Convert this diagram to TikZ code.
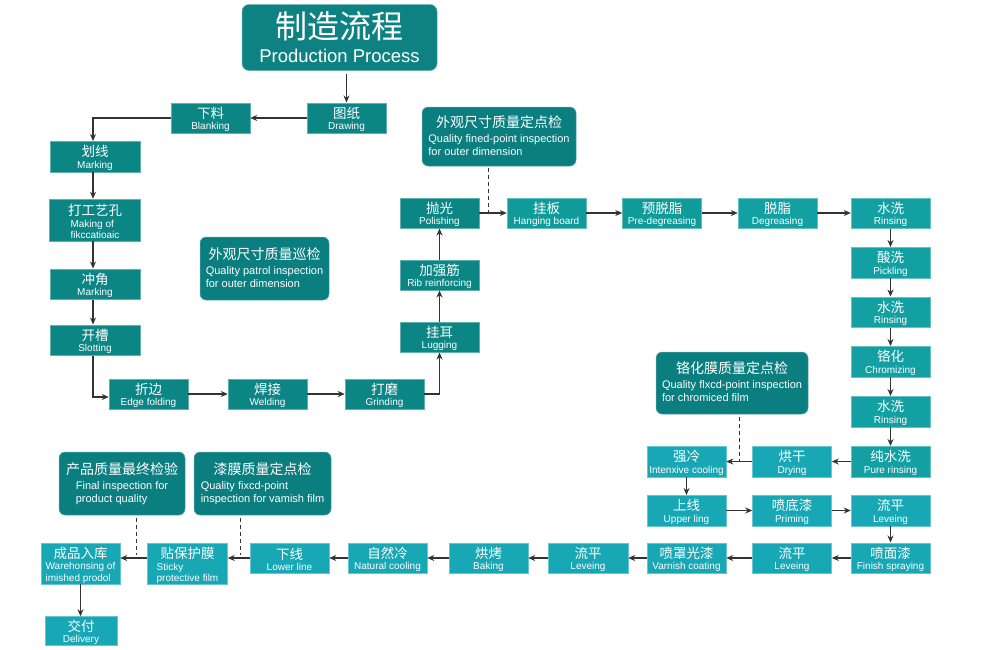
\documentclass[tikz,border=0pt]{standalone}
\usepackage{fontspec}
\setmainfont{Liberation Sans}
\newfontfamily\cjk{Noto Sans CJK SC}
\usetikzlibrary{arrows.meta,calc}
\definecolor{cA}{HTML}{0B7E80}
\definecolor{cT}{HTML}{0E8282}
\definecolor{cB}{HTML}{0C8585}
\definecolor{cG}{HTML}{109B9B}
\definecolor{cC}{HTML}{13A0A3}
\definecolor{cD}{HTML}{17A7B5}
\definecolor{lnk}{HTML}{333333}
\newcommand\zh[1]{{\cjk\fontsize{13.5}{14}\selectfont\rule{0pt}{14.5pt}#1}}
\newcommand\zhi[1]{{\cjk\fontsize{14}{14}\selectfont #1}}
\begin{document}
\begin{tikzpicture}[x=1pt,y=-1pt,
  pbox/.style={rectangle, inner sep=0pt, minimum width=79pt, minimum height=30.5pt,
    text=white, align=center, font=\fontsize{10}{11.5}\selectfont,
    fill=#1, draw=#1!65!white, line width=0.5pt},
  pbox/.default=cB,
  insp/.style={rectangle, rounded corners=6pt, inner sep=0pt, text=white, align=center,
    font=\fontsize{11}{13}\selectfont, fill=cA, draw=cA!65!white, line width=0.5pt},
  ttl/.style={rectangle, rounded corners=7pt, inner sep=0pt, minimum width=195pt,
    minimum height=66pt, text=white, align=center, font=\fontsize{18.5}{24}\selectfont,
    fill=cT, draw=cT!65!white, line width=0.5pt},
  arr/.style={-{Stealth[length=7pt,width=6pt]}, draw=lnk, line width=1.1pt},
  dsh/.style={draw=lnk, line width=0.9pt, dash pattern=on 4pt off 3pt}
]
\fill[white] (0,0) rectangle (1000,649);
\useasboundingbox (0,0) rectangle (1000,649);

% title
\node[ttl] (title) at (339.5,37.5) {{\cjk\fontsize{32}{32}\selectfont 制造流程}\\Production Process};

% dark group
\node[pbox] (tuzhi) at (346.5,118) {\zh{图纸}\\Drawing};
\node[pbox] (xialiao) at (210.5,118) {\zh{下料}\\Blanking};
\node[pbox, minimum width=90pt] (huaxian) at (95,156.5) {\zh{划线}\\Marking};
\node[pbox, minimum width=91pt, minimum height=42pt] (dagong) at (95,220) {\zh{打工艺孔}\\\rlap{Making of}\phantom{fikccatioaic}\\fikccatioaic};
\node[pbox, minimum width=90pt] (chongjiao) at (95,284) {\zh{冲角}\\Marking};
\node[pbox, minimum width=90pt] (kaicao) at (95,340) {\zh{开槽}\\Slotting};
\node[pbox] (zhebian) at (148.5,394) {\zh{折边}\\Edge folding};
\node[pbox] (hanjie) at (267.5,394) {\zh{焊接}\\Welding};
\node[pbox] (damo) at (384.5,394) {\zh{打磨}\\Grinding};
\node[pbox] (guaer) at (439.5,337) {\zh{挂耳}\\Lugging};
\node[pbox] (jiaqiang) at (439.5,275) {\zh{加强筋}\\Rib reinforcing};
\node[pbox] (paoguang) at (439.5,213) {\zh{抛光}\\Polishing};

% top row
\node[pbox=cG] (guaban) at (546.5,213) {\zh{挂板}\\Hanging board};
\node[pbox=cG] (yutuozhi) at (662,213) {\zh{预脱脂}\\Pre-degreasing};
\node[pbox=cC] (tuozhi) at (777.5,213) {\zh{脱脂}\\Degreasing};
\node[pbox=cC] (shuixiA) at (890.5,213) {\zh{水洗}\\Rinsing};
\node[pbox=cC] (suanxi) at (890.5,262.5) {\zh{酸洗}\\Pickling};
\node[pbox=cC] (shuixiB) at (890.5,312) {\zh{水洗}\\Rinsing};
\node[pbox=cC] (gehua) at (890.5,361.5) {\zh{铬化}\\Chromizing};
\node[pbox=cC] (shuixiC) at (890.5,411.5) {\zh{水洗}\\Rinsing};
\node[pbox=cC] (chunshui) at (890.5,461.5) {\zh{纯水洗}\\Pure rinsing};

% lower right
\node[pbox=cD] (honggan) at (792,461.5) {\zh{烘干}\\Drying};
\node[pbox=cD] (qiangleng) at (686.5,461.5) {\zh{强冷}\\Intenxive cooling};
\node[pbox=cD] (shangxian) at (686.5,510.5) {\zh{上线}\\Upper ling};
\node[pbox=cD] (pendi) at (792,510.5) {\zh{喷底漆}\\Priming};
\node[pbox=cD] (liupingA) at (890.5,510.5) {\zh{流平}\\Leveing};
\node[pbox=cD] (penmian) at (890.5,558) {\zh{喷面漆}\\Finish spraying};
\node[pbox=cD] (liupingB) at (792,558) {\zh{流平}\\Leveing};
\node[pbox=cD] (penzhao) at (686.5,558) {\zh{喷罩光漆}\\Varnish coating};

% bottom row
\node[pbox=cD, minimum width=80pt] (liupingC) at (588,558) {\zh{流平}\\Leveing};
\node[pbox=cD] (hongkao) at (488.5,558) {\zh{烘烤}\\Baking};
\node[pbox=cD] (ziran) at (387.5,558) {\zh{自然冷}\\Natural cooling};
\node[pbox=cD] (xiaxian) at (289.5,558) {\zh{下线}\\Lower line};
\node[pbox=cD, minimum width=80pt, minimum height=41pt] (tiebao) at (187.5,564) {\zh{贴保护膜}\\\rlap{Sticky}\phantom{protective film}\\protective film};
\node[pbox=cD, minimum height=41pt] (chengpin) at (80.5,563.5) {\zh{成品入库}\\Warehonsing of\\\rlap{imished prodol}\phantom{Warehonsing of}};
\node[pbox=cD, minimum width=72pt, minimum height=29pt] (jiaofu) at (81,631) {\zh{交付}\\Delivery};

% inspections
\node[insp, minimum width=154pt, minimum height=59pt] (iA) at (499,136.5) {\zhi{外观尺寸质量定点检}\\[2pt]Quality fined-point inspection\\\rlap{for outer dimension}\phantom{Quality fined-point inspection}};
\node[insp, minimum width=129pt, minimum height=63pt] (iB) at (264.5,268.5) {\zhi{外观尺寸质量巡检}\\[2pt]Quality patrol inspection\\\rlap{for outer dimension}\phantom{Quality patrol inspection}};
\node[insp, minimum width=152pt, minimum height=62pt] (iC) at (732,383) {\zhi{铬化膜质量定点检}\\[2pt]Quality flxcd-point inspection\\\rlap{for chromiced film}\phantom{Quality flxcd-point inspection}};
\node[insp, minimum width=126pt, minimum height=63pt] (iD) at (122,483.5) {\zhi{产品质量最终检验}\\[2pt]Final inspection for\\\rlap{product quality}\phantom{Final inspection for}};
\node[insp, minimum width=137pt, minimum height=63pt] (iE) at (262.5,483.5) {\zhi{漆膜质量定点检}\\[2pt]\rlap{Quality fixcd-point}\phantom{inspection for vamish film}\\inspection for vamish film};

% connectors
\draw[arr, shorten <=3pt] (title.south -| tuzhi) -- (tuzhi.north);
\draw[arr] (tuzhi.west) -- (xialiao.east);
\draw[arr] (xialiao.west) -| ($(huaxian.north)+(-2,0)$);
\draw[arr] ($(huaxian.south)+(-2,0)$) -- ($(dagong.north)+(-2,0)$);
\draw[arr] ($(dagong.south)+(-2,0)$) -- ($(chongjiao.north)+(-2,0)$);
\draw[arr] ($(chongjiao.south)+(-2,0)$) -- ($(kaicao.north)+(-2,0)$);
\draw[arr] ($(kaicao.south)+(-2,0)$) |- ($(zhebian.west)+(0,3)$);
\draw[arr] (zhebian) -- (hanjie);
\draw[arr] (hanjie) -- (damo);
\draw[arr] (damo.east) -| (guaer.south);
\draw[arr] (guaer) -- (jiaqiang);
\draw[arr] (jiaqiang) -- (paoguang);
\draw[arr] (paoguang) -- (guaban);
\draw[arr] (guaban) -- (yutuozhi);
\draw[arr] (yutuozhi) -- (tuozhi);
\draw[arr] (tuozhi) -- (shuixiA);
\draw[arr] (shuixiA) -- (suanxi);
\draw[arr] (suanxi) -- (shuixiB);
\draw[arr] (shuixiB) -- (gehua);
\draw[arr] (gehua) -- (shuixiC);
\draw[arr] (shuixiC) -- (chunshui);
\draw[arr] (chunshui) -- (honggan);
\draw[arr] (honggan) -- (qiangleng);
\draw[arr] (qiangleng) -- (shangxian);
\draw[arr] (shangxian) -- (pendi);
\draw[arr] (pendi) -- (liupingA);
\draw[arr] (liupingA) -- (penmian);
\draw[arr] (penmian) -- (liupingB);
\draw[arr] (liupingB) -- (penzhao);
\draw[arr] (penzhao) -- (liupingC);
\draw[arr] (liupingC) -- (hongkao);
\draw[arr] (hongkao) -- (ziran);
\draw[arr] (ziran) -- (xiaxian);
\draw[arr] (xiaxian.west) -- (xiaxian.west -| tiebao.east);
\draw[arr] (tiebao.west |- xiaxian) -- (chengpin.east |- xiaxian);
\draw[arr] (chengpin.south) -- (chengpin.south |- jiaofu.north);

% dashed links
\coordinate (dA) at (488,213);
\coordinate (dC) at (739,461.5);
\coordinate (dD) at (136,558);
\coordinate (dE) at (240,558);
\draw[dsh, shorten <=2pt] (iA.south -| dA) -- (dA);
\draw[dsh, shorten <=3pt] (iC.south -| dC) -- (dC);
\draw[dsh, shorten <=3pt, shorten >=3pt] (iD.south -| dD) -- (dD);
\draw[dsh, shorten <=3pt, shorten >=3pt] (iE.south -| dE) -- (dE);
\end{tikzpicture}
\end{document}
